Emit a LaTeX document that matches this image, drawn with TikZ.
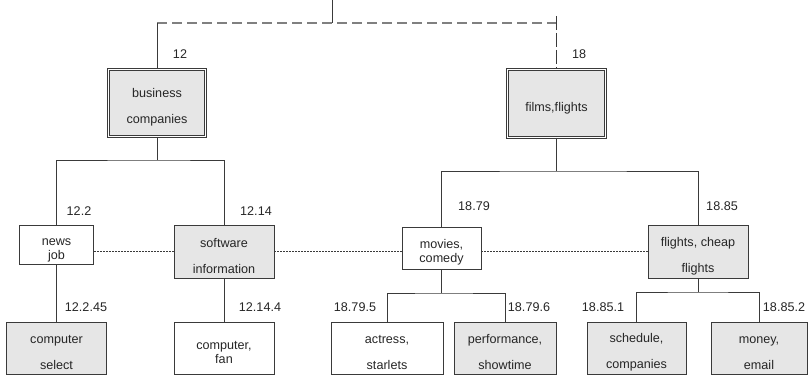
\documentclass[tikz,border=0pt]{standalone}
\usepackage{fontspec}
\setmainfont{Liberation Sans}
\definecolor{boxgray}{HTML}{E6E6E6}
\definecolor{linegray}{HTML}{3A3A3A}
\definecolor{textgray}{HTML}{262626}
\newcommand{\boxstrut}{\rule{0pt}{18pt}}
\begin{document}
\begin{tikzpicture}[x=1pt,y=-1pt,
  every node/.style={font=\fontsize{12.6}{14}\selectfont, text=textgray},
  box/.style={draw=linegray, line width=0.8pt, inner sep=0pt, align=center},
  grey/.style={box, fill=boxgray},
  topbox/.style={grey, double=white, double distance=1.5pt, line width=0.7pt},
  tag/.style={inner sep=0pt},
  link/.style={draw=linegray, line width=0.8pt},
  dots/.style={draw=linegray, line width=0.6pt, dash pattern=on 2pt off 1pt}]
\useasboundingbox (0,0) rectangle (808,377);
\node[topbox, minimum width=97pt, minimum height=67pt] (bus) at (157,103) {\boxstrut business\\[12pt]companies};
\node[topbox, minimum width=98pt, minimum height=68pt] (film) at (556.5,103.5) {\boxstrut films,flights};
\node[box, minimum width=74pt, minimum height=39pt] (news) at (56.5,244.5) {\boxstrut news\\job};
\node[grey, minimum width=100pt, minimum height=53pt] (soft) at (224,251.5) {\boxstrut software\\[12pt]information};
\node[box, minimum width=79pt, minimum height=42pt] (movie) at (441.5,248) {\boxstrut movies,\\comedy};
\node[grey, minimum width=100pt, minimum height=53pt] (cheap) at (698,251.5) {\boxstrut flights, cheap\\[12pt]flights};
\node[grey, minimum width=100pt, minimum height=52pt] (comp) at (56.5,348) {\boxstrut computer\\[12pt]select};
\node[box, minimum width=100pt, minimum height=52pt] (fan) at (224,348) {\boxstrut computer,\\fan};
\node[box, minimum width=112pt, minimum height=52pt] (actr) at (387,348) {\boxstrut actress,\\[12pt]starlets};
\node[grey, minimum width=102pt, minimum height=52pt] (perf) at (505,348) {\boxstrut performance,\\[12pt]showtime};
\node[grey, minimum width=99pt, minimum height=52pt] (sched) at (636.5,348) {\boxstrut schedule,\\[12pt]companies};
\node[grey, minimum width=96pt, minimum height=52pt] (money) at (759,348) {\boxstrut money,\\[12pt]email};
\node[tag] (t12) at (180,54) {12};
\node[tag] (t18) at (579,54) {18};
\node[tag] (t122) at (79,211) {12.2};
\node[tag] (t1214) at (256,211) {12.14};
\node[tag] (t1879) at (474,206) {18.79};
\node[tag] (t1885) at (722,206) {18.85};
\node[tag] (t12245) at (86,307) {12.2.45};
\node[tag] (t12144) at (260,307) {12.14.4};
\node[tag] (t18795) at (355,307) {18.79.5};
\node[tag] (t18796) at (529,307) {18.79.6};
\node[tag] (t18851) at (603,307) {18.85.1};
\node[tag] (t18852) at (784,307) {18.85.2};
\coordinate (root) at (332,0);
\coordinate (rootj) at (332,23);
\coordinate (filmj) at (556.5,16);
\coordinate (j1) at (157,160);
\coordinate (j2) at (556.5,171);
\coordinate (j3) at (441.5,293);
\coordinate (j4) at (698,292);
\draw[link] (root) -- (rootj);
\draw[gray, line width=1.1pt, dash pattern=on 10pt off 5pt] (bus.north |- rootj) -- (film.north |- rootj);
\draw[link] (bus.north |- rootj) -- (bus.north);
\draw[link, dash pattern=on 14pt off 3pt] (filmj) -- (film.north);
\draw[link] (bus.south) -- (j1);
\draw[link] (news.north) |- (j1) -| (soft.north);
\draw[link] (film.south) -- (j2);
\draw[link] (movie.north) |- (j2) -| (cheap.north);
\draw[link] (news.south) -- (comp.north);
\draw[link] (soft.south) -- (fan.north);
\draw[link] (movie.south) -- (j3);
\draw[link] (actr.north) |- (j3) -| (perf.north);
\draw[link] (cheap.south) -- (j4);
\draw[link] (sched.north) |- (j4) -| (money.north);
\draw[dots] (news.east |- soft.west) -- (soft.west);
\draw[dots] (soft.east) -- (movie.west |- soft.east);
\draw[dots] (movie.east |- soft.east) -- (cheap.west);
\end{tikzpicture}
\end{document}
